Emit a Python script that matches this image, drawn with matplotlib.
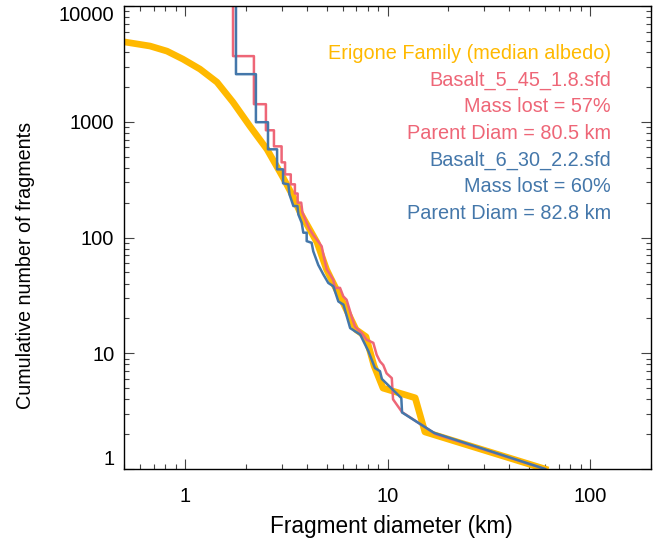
import matplotlib
matplotlib.use('Agg')
import matplotlib.pyplot as plt
from matplotlib.ticker import FixedLocator, FixedFormatter, LogLocator, NullFormatter

plt.rcParams['font.family'] = ['Liberation Sans', 'DejaVu Sans']

# Erigone family cumulative SFD (median albedo)
erigone_d = [0.5, 0.672, 0.815, 0.977, 1.186, 1.439, 1.726, 2.094, 2.541, 3.05, 3.42,
             3.70, 4.49, 5.0, 5.20, 6.03, 6.99, 7.83, 8.58, 9.5, 13.7, 15.3, 60]
erigone_n = [4900, 4510, 4075, 3475, 2850, 2198, 1476, 914, 578, 330, 226,
             165, 90.5, 53, 46, 27.4, 16, 13.9, 7.8, 5.0, 4.12, 2.09, 1]

# Basalt_5_45_1.8.sfd
basalt5_d = [1.727, 1.727, 2.19, 2.19, 2.51, 2.51, 2.75, 2.75, 3.0, 3.0, 3.12, 3.12,
             3.33, 3.33, 3.49, 3.49, 3.6, 3.6, 3.75, 3.8, 3.99, 4.1, 4.3, 4.47, 4.6,
             4.73, 4.85, 5.01, 5.2, 5.40, 5.50, 5.83, 6.05, 6.28, 6.65, 6.91, 7.45,
             7.88, 8.51, 8.84, 9.18, 9.53, 9.90, 10.5, 10.65, 11.8, 17.3, 60]
basalt5_n = [30000, 3690, 3690, 1418, 1418, 844, 844, 613, 613, 446, 446, 351,
             351, 288, 288, 240, 240, 200, 200, 165, 134, 120, 105, 96, 90,
             84, 68, 53, 48, 43, 36.7, 36.7, 31, 29, 20.8, 17, 15,
             13.1, 12.3, 9.7, 8.5, 7.9, 6.7, 6.1, 4.0, 3.1, 2.0, 1]

# Basalt_6_30_2.2.sfd
basalt6_d = [1.786, 1.786, 2.24, 2.24, 2.57, 2.57, 2.85, 2.85, 3.05, 3.05, 3.24, 3.28,
             3.43, 3.59, 3.63, 3.77, 3.84, 3.99, 3.99, 4.22, 4.30, 4.55, 4.82, 5.10,
             5.40, 5.72, 6.06, 6.54, 7.33, 8.05, 8.67, 9.18, 9.38, 11.7, 11.8, 17.0, 60]
basalt6_n = [30000, 2577, 2577, 991, 991, 578, 578, 388, 388, 294, 288, 236,
             187, 187, 158, 134, 110, 110, 93, 90, 76, 58, 48, 40.5,
             37.9, 28, 26.3, 16.5, 14.5, 10.4, 7.45, 7.0, 6.0, 4.1, 3.08, 2.05, 1]

x_ticks = [1, 10, 100]
y_ticks = [1, 10, 100, 1000, 10000]

legend_text = ['Erigone Family (median albedo)', 'Basalt_5_45_1.8.sfd', 'Mass lost = 57%',
               'Parent Diam = 80.5 km', 'Basalt_6_30_2.2.sfd', 'Mass lost = 60%',
               'Parent Diam = 82.8 km']

ORANGE = '#FFB900'
PINK = '#EE6677'
BLUE = '#4477AA'
legend_colors = [ORANGE, PINK, PINK, PINK, BLUE, BLUE, BLUE]

W, H = 665, 545
fig = plt.figure(figsize=(W / 100, H / 100), dpi=100)
left, right, top, bottom = 124, 651, 6, 469
ax = fig.add_axes([left / W, 1 - bottom / H, (right - left) / W, (bottom - top) / H])

ax.plot(erigone_d, erigone_n, color=ORANGE, lw=4.8, solid_joinstyle='round')
ax.plot(basalt5_d, basalt5_n, color=PINK, lw=1.8)
ax.plot(basalt6_d, basalt6_n, color=BLUE, lw=1.8)

ax.set_xscale('log')
ax.set_yscale('log')
ax.set_xlim(0.5, 200)
ax.set_ylim(1, 10000)

ax.xaxis.set_major_locator(FixedLocator(x_ticks))
ax.xaxis.set_major_formatter(FixedFormatter([str(v) for v in x_ticks]))
ax.yaxis.set_major_locator(FixedLocator(y_ticks))
ax.yaxis.set_major_formatter(FixedFormatter([str(v) for v in y_ticks]))
ax.xaxis.set_minor_locator(LogLocator(base=10, subs=range(2, 10), numticks=20))
ax.yaxis.set_minor_locator(LogLocator(base=10, subs=range(2, 10), numticks=20))
ax.xaxis.set_minor_formatter(NullFormatter())
ax.yaxis.set_minor_formatter(NullFormatter())

ax.tick_params(which='both', direction='in', top=True, right=True, width=0.8,
               color='#444444', labelsize=14.5)
ax.tick_params(which='major', length=7.2)
ax.tick_params(which='minor', length=3.6)
ax.tick_params(axis='x', pad=13)
ax.tick_params(axis='y', pad=7)
for s in ax.spines.values():
    s.set_linewidth(1.0)

# IDL-style: end labels kept inside the axis range
yt = ax.yaxis.get_major_ticks()
yt[0].label1.set_va('bottom')
yt[-1].label1.set_va('top')

ax.set_xlabel('Fragment diameter (km)', fontsize=16.3)
ax.set_ylabel('Cumulative number of fragments', fontsize=14.2)
ax.xaxis.set_label_coords(0.507, -0.099)
ax.yaxis.set_label_coords(-0.168, 0.44)

for i, (t, c) in enumerate(zip(legend_text, legend_colors)):
    fig.text(611 / W, 1 - (59 + 26.6 * i) / H, t, color=c, ha='right',
             va='baseline', fontsize=14.3)

fig.savefig('out.png', dpi=100)
